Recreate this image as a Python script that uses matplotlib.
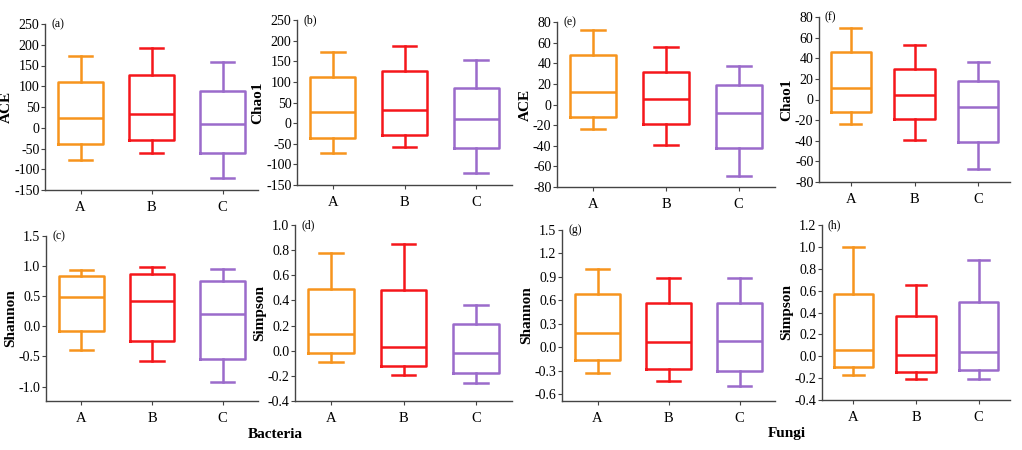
import matplotlib
matplotlib.use("Agg")
import matplotlib.pyplot as plt
from matplotlib.ticker import MultipleLocator

plt.rcParams["font.family"] = ["Liberation Serif", "DejaVu Serif"]

groups = ["A", "B", "C"]
colors = ["#F7941D", "#F5161B", "#9B6BCB"]

# per group: whisker high, Q3, median, Q1, whisker low
ace_bac = [[172, 110, 23, -38, -78], [192, 128, 33, -30, -60], [158, 88, 10, -60, -122]]
chao_bac = [[172, 112, 27, -35, -73], [187, 126, 33, -28, -58], [152, 84, 9, -60, -121]]
shannon_bac = [[0.93, 0.83, 0.49, -0.08, -0.40], [0.99, 0.87, 0.42, -0.25, -0.57],
               [0.95, 0.76, 0.20, -0.55, -0.92]]
simpson_bac = [[0.78, 0.49, 0.13, -0.02, -0.09], [0.85, 0.48, 0.03, -0.12, -0.19],
               [0.36, 0.21, -0.02, -0.18, -0.26]]
ace_fun = [[72, 48, 12, -12, -24], [56, 32, 5, -19, -39], [37, 19, -8, -42, -69]]
chao_fun = [[69, 46, 11, -12, -24], [53, 30, 4, -19, -39], [36, 18, -7, -41, -67]]
shannon_fun = [[1.0, 0.68, 0.18, -0.16, -0.33], [0.88, 0.56, 0.07, -0.28, -0.44],
               [0.88, 0.57, 0.08, -0.30, -0.50]]
simpson_fun = [[1.0, 0.57, 0.06, -0.10, -0.17], [0.65, 0.37, 0.01, -0.14, -0.21],
               [0.88, 0.50, 0.04, -0.13, -0.21]]

# (data, ylabel, panel letter, ylim, tick step, axes rect in pixels: left, top, right, bottom)
panels = [
    (ace_bac, "ACE", "(a)", (-150, 250), 50, (45, 24, 258, 190)),
    (chao_bac, "Chao1", "(b)", (-150, 250), 50, (297, 20, 512, 185)),
    (ace_fun, "ACE", "(e)", (-80, 80), 20, (557, 22, 775, 187)),
    (chao_fun, "Chao1", "(f)", (-80, 80), 20, (819, 17, 1010, 182)),
    (shannon_bac, "Shannon", "(c)", (-1.24, 1.5), 0.5, (46, 236, 258, 401)),
    (simpson_bac, "Simpson", "(d)", (-0.4, 1.0), 0.2, (295, 225, 512, 401)),
    (shannon_fun, "Shannon", "(g)", (-0.69, 1.5), 0.3, (562, 230, 775, 401)),
    (simpson_fun, "Simpson", "(h)", (-0.4, 1.2), 0.2, (822, 225, 1010, 400)),
]

W, H = 1022, 450
fig = plt.figure(figsize=(W / 100, H / 100), dpi=100)

for data, ylabel, letter, ylim, step, (l, t, r, b) in panels:
    ax = fig.add_axes([l / W, 1 - b / H, (r - l) / W, (b - t) / H])
    for i, (hi, q3, med, q1, lo) in enumerate(data):
        stats = [{"whishi": hi, "q3": q3, "med": med, "q1": q1, "whislo": lo, "fliers": []}]
        c = colors[i]
        ax.bxp(stats, positions=[i + 1], widths=0.63, showfliers=False,
               boxprops=dict(color=c, linewidth=1.8),
               medianprops=dict(color=c, linewidth=1.8),
               whiskerprops=dict(color=c, linewidth=1.8),
               capprops=dict(color=c, linewidth=1.8), capwidths=0.33)
    ax.set_xlim(0.5, 3.5)
    ax.set_ylim(*ylim)
    ax.set_xticks([1, 2, 3])
    ax.set_xticklabels(groups)
    ax.yaxis.set_major_locator(MultipleLocator(step))
    fmt = "{:.0f}" if step >= 1 else "{:.1f}"
    ax.set_yticks(ax.get_yticks())
    ax.set_yticklabels([fmt.format(v) for v in ax.get_yticks()])
    ax.set_ylim(*ylim)
    for s in ("top", "right"):
        ax.spines[s].set_visible(False)
    for s in ("left", "bottom"):
        ax.spines[s].set_color("#444444")
        ax.spines[s].set_linewidth(1.0)
    ax.tick_params(axis="both", labelsize=10, length=3, width=0.8, color="#444444", pad=1)
    ax.tick_params(axis="x", pad=5, labelsize=10.5)
    ax.set_ylabel(ylabel, fontsize=11, fontweight="bold", labelpad=1)
    ax.text(0.03, 1.0, letter, transform=ax.transAxes, fontsize=8.5, va="center", ha="left")

fig.text(275 / W, 1 - 435 / H, "Bacteria", fontsize=11, fontweight="bold", ha="center", va="center")
fig.text(787 / W, 1 - 433 / H, "Fungi", fontsize=11, fontweight="bold", ha="center", va="center")

fig.savefig("out.png", dpi=100)
